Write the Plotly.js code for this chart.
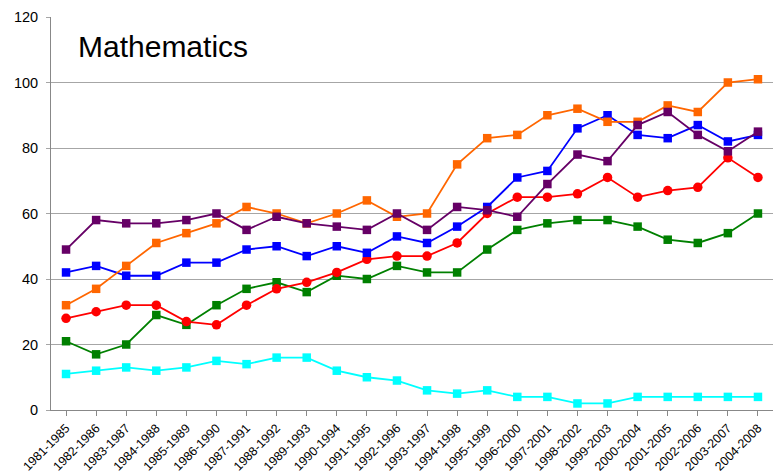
<!DOCTYPE html>
<html>
<head>
<meta charset="utf-8">
<script src="https://cdn.plot.ly/plotly-3.0.1.min.js"></script>
<style>html,body{margin:0;padding:0;background:#fff;}#chart{width:773px;height:474px;}</style>
</head>
<body>
<div id="chart"></div>
<script>
const categories = ["1981-1985","1982-1986","1983-1987","1984-1988","1985-1989","1986-1990","1987-1991","1988-1992","1989-1993","1990-1994","1991-1995","1992-1996","1993-1997","1994-1998","1995-1999","1996-2000","1997-2001","1998-2002","1999-2003","2000-2004","2001-2005","2002-2006","2003-2007","2004-2008"];
const purpleSeries = [49,58,57,57,58,60,55,59,57,56,55,60,55,62,61,59,69,78,76,87,91,84,79,85];
const orangeSeries = [32,37,44,51,54,57,62,60,57,60,64,59,60,75,83,84,90,92,88,88,93,91,100,101];
const blueSeries   = [42,44,41,41,45,45,49,50,47,50,48,53,51,56,62,71,73,86,90,84,83,87,82,84];
const redSeries    = [28,30,32,32,27,26,32,37,39,42,46,47,47,51,60,65,65,66,71,65,67,68,77,71];
const greenSeries  = [21,17,20,29,26,32,37,39,36,41,40,44,42,42,49,55,57,58,58,56,52,51,54,60];
const cyanSeries   = [11,12,13,12,13,15,14,16,16,12,10,9,6,5,6,4,4,2,2,4,4,4,4,4];
const yTicks = [0,20,40,60,80,100,120];
const chartTitle = "Mathematics";

function tr(y, color, symbol, size) {
  return {x: categories, y: y, type: "scatter", mode: "lines+markers",
    line: {color: color, width: 1.8},
    marker: {color: color, symbol: symbol, size: size, line: {width: 0}},
    showlegend: false, hoverinfo: "skip"};
}
const data = [
  tr(cyanSeries, "#00FFFF", "square", 8.5),
  tr(greenSeries, "#008000", "square", 8.5),
  tr(redSeries, "#FF0000", "circle", 9.5),
  tr(blueSeries, "#0000FF", "square", 8.5),
  tr(orangeSeries, "#FF6600", "square", 8.5),
  tr(purpleSeries, "#660066", "square", 8.5)
];
const layout = {
  width: 773, height: 474,
  margin: {l: 51, r: 0, t: 17, b: 64, pad: 0},
  paper_bgcolor: "#fff", plot_bgcolor: "#fff",
  font: {family: "Liberation Sans, Arial, sans-serif", color: "#000"},
  xaxis: {type: "category", range: [-0.5, 23.5], tickangle: -45,
    tickfont: {size: 12.5, color: "#000"}, showgrid: false, zeroline: false,
    showline: true, linecolor: "#888", linewidth: 1,
    ticks: "outside", ticklen: 5, tickcolor: "#888", fixedrange: true},
  yaxis: {range: [0, 120], tickvals: yTicks, ticktext: yTicks.map(String),
    tickfont: {size: 14.5, color: "#000"}, showgrid: true, gridcolor: "#a6a6a6", gridwidth: 1,
    zeroline: false, showline: true, linecolor: "#888", linewidth: 1,
    ticks: "outside", ticklen: 4, tickcolor: "#a6a6a6", ticklabelstandoff: 5, fixedrange: true},
  annotations: [{text: chartTitle, xref: "paper", yref: "paper", x: 0.034, y: 0.925,
    xanchor: "left", yanchor: "middle", showarrow: false,
    font: {size: 30, color: "#000", family: "Liberation Sans, Arial, sans-serif"}}]
};
Plotly.newPlot("chart", data, layout, {displayModeBar: false, staticPlot: true});
</script>
</body>
</html>
